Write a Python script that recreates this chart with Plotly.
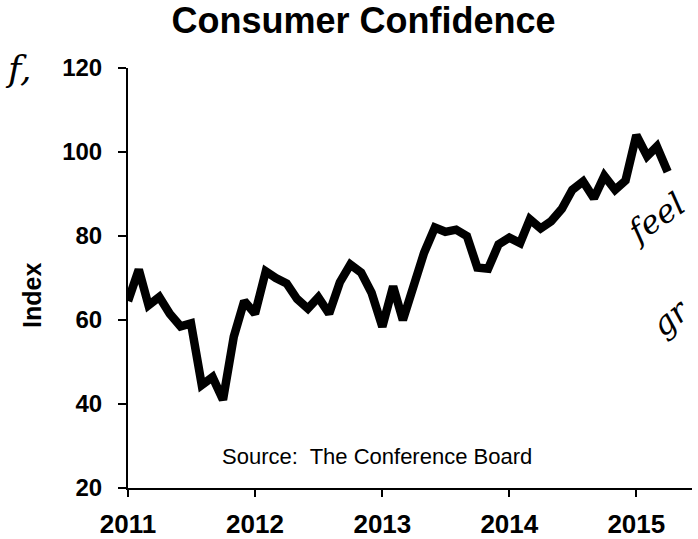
import pandas as pd
import plotly.graph_objects as go

# Monthly Consumer Confidence Index, Jan 2011 - Apr 2015
months = list(pd.date_range("2011-01-01", periods=52, freq="MS"))
index_values = [
    64.5, 72.0, 63.5, 65.5, 61.5, 58.5, 59.2, 44.5, 46.4, 41.0, 56.0, 64.5,   # 2011
    61.5, 71.6, 70.0, 68.7, 65.0, 62.7, 65.4, 61.5, 69.0, 73.2, 71.3, 66.5,   # 2012
    58.4, 68.0, 60.0, 68.5, 76.0, 82.0, 81.0, 81.5, 80.0, 72.5, 72.2, 78.0,   # 2013
    79.6, 78.3, 84.0, 81.8, 83.5, 86.5, 91.0, 93.0, 89.0, 94.3, 91.0, 93.2,   # 2014
    104.0, 99.0, 101.3, 95.3,                                                  # 2015
]
year_ticks = ["2011-01-01", "2012-01-01", "2013-01-01", "2014-01-01", "2015-01-01"]
year_labels = ["2011", "2012", "2013", "2014", "2015"]
y_ticks = [20, 40, 60, 80, 100, 120]

FONT = "Liberation Sans, Arial, sans-serif"
HAND = "DejaVu Serif, serif"

W, H = 698, 539

fig = go.Figure()
fig.add_trace(go.Scatter(
    x=months, y=index_values, mode="lines",
    line=dict(color="black", width=8.5),
    hoverinfo="skip", showlegend=False,
))

fig.update_layout(
    width=W, height=H,
    margin=dict(l=128, r=6, t=68, b=51, autoexpand=False),
    paper_bgcolor="white", plot_bgcolor="white",
    hovermode=False,
    title=dict(text="Consumer Confidence", x=363.5 / W, xref="container", xanchor="center",
               y=1 - 20 / H, yref="container", yanchor="middle", automargin=False,
               font=dict(family=FONT, size=36, color="black", weight="bold")),
    xaxis=dict(
        type="date", range=["2011-01-01", "2015-06-10"],
        tickvals=year_ticks, ticktext=year_labels,
        showgrid=False, zeroline=False, automargin=False,
        showline=True, linecolor="black", linewidth=2,
        ticks="outside", ticklen=7, tickwidth=2, tickcolor="black",
        ticklabelstandoff=5,
        tickfont=dict(family=FONT, size=26, color="black", weight="bold"),
    ),
    yaxis=dict(
        range=[20, 120], tickvals=y_ticks,
        showgrid=False, zeroline=False, automargin=False,
        showline=True, linecolor="black", linewidth=2,
        ticks="outside", ticklen=8, tickwidth=2, tickcolor="black",
        ticklabelstandoff=11,
        tickfont=dict(family=FONT, size=24, color="black", weight="bold"),
    ),
)

def px(xp):
    return (xp - 128) / 564

def py(yp):
    return (488 - yp) / 420

fig.add_annotation(text="Index", xref="paper", yref="paper",
                   x=px(32), y=py(296),
                   xanchor="center", yanchor="middle", textangle=-90, showarrow=False,
                   font=dict(family=FONT, size=25, color="black", weight="bold"))
fig.add_annotation(text="Source:  The Conference Board", xref="paper", yref="paper",
                   x=px(377), y=py(456),
                   xanchor="center", yanchor="middle", showarrow=False,
                   font=dict(family=FONT, size=22, color="black"))

# handwritten marks on the scanned page
fig.add_annotation(text="<i>f,</i>", xref="paper", yref="paper",
                   x=px(18), y=py(68),
                   xanchor="center", yanchor="middle", showarrow=False,
                   font=dict(family=HAND, size=36, color="black"))
fig.add_annotation(text="<i>feel</i>", xref="paper", yref="paper",
                   x=px(656), y=py(218),
                   xanchor="center", yanchor="middle", showarrow=False, textangle=-35,
                   font=dict(family=HAND, size=32, color="black"))
fig.add_annotation(text="<i>gr</i>", xref="paper", yref="paper",
                   x=px(670), y=py(318),
                   xanchor="center", yanchor="middle", showarrow=False, textangle=-40,
                   font=dict(family=HAND, size=32, color="black"))

# remove the browser's default 8px body margin so the figure fills the window
fig.write_html("out.html", config={"displayModeBar": False},
               post_script="document.body.style.margin='0px';")
